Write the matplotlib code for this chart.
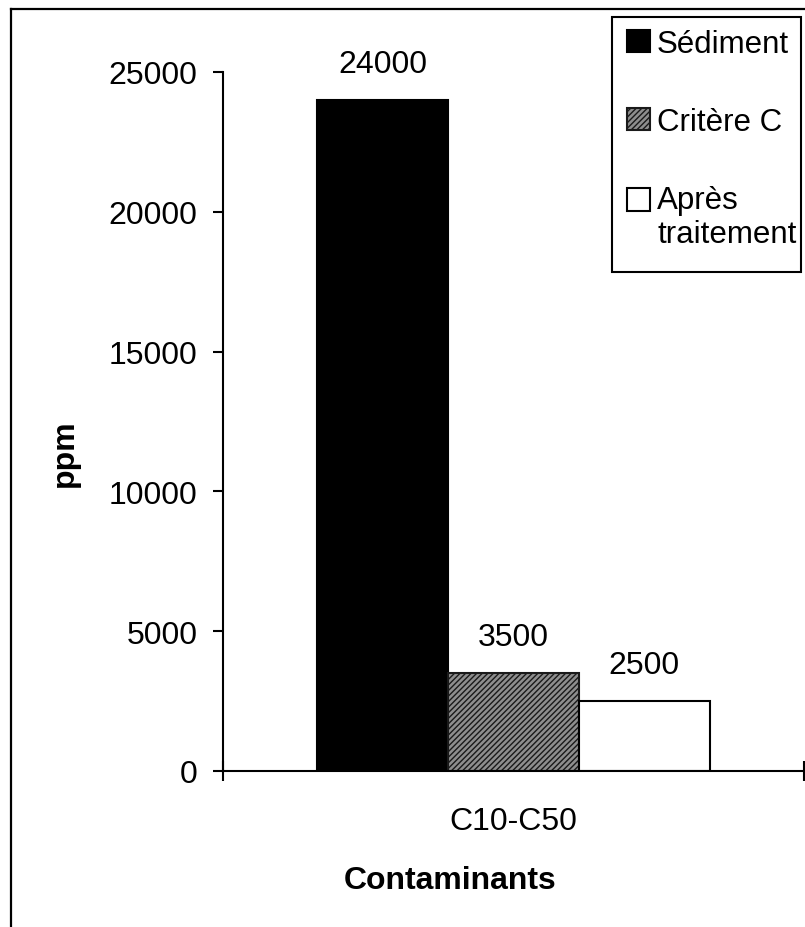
import matplotlib
matplotlib.use("Agg")
import matplotlib.pyplot as plt
from matplotlib.lines import Line2D
from matplotlib.patches import Patch, Rectangle
from matplotlib.legend_handler import HandlerPatch

plt.rcParams['font.family'] = ['Liberation Sans', 'DejaVu Sans']
plt.rcParams['hatch.linewidth'] = 1.0

# Data
category = ["C10-C50"]
series_names = ["Sédiment", "Critère C", "Après\ntraitement"]
series_values = [24000, 3500, 2500]
yticks = [0, 5000, 10000, 15000, 20000, 25000]

FS = 23

fig = plt.figure(figsize=(8.05, 9.28), dpi=100)
W, H = 805, 928
ax = fig.add_axes([223 / W, 1 - 772 / H, (804 - 223) / W, (772 - 73) / H])

bar_w = 0.225
offsets = [-bar_w, 0.0, bar_w]
styles = [
    dict(facecolor="black", edgecolor="black"),
    dict(facecolor="#8e8e8e", edgecolor="#1a1a1a", hatch="//////"),
    dict(facecolor="white", edgecolor="black"),
]
for off, val, name, st in zip(offsets, series_values, series_names, styles):
    b = ax.bar(0 + off, val, width=bar_w, linewidth=1.5, label=name, **st)
    ax.bar_label(b, labels=[f"{val}"], padding=15, fontsize=FS)

ax.set_xlim(-0.5, 0.5)
ax.set_ylim(0, 25000)
ax.set_yticks(yticks)
ax.set_yticklabels([str(t) for t in yticks], fontsize=FS)
ax.tick_params(axis="y", direction="out", length=7.2, width=1.5, pad=11)

ax.set_xticks([0])
ax.set_xticklabels(category, fontsize=FS)
ax.tick_params(axis="x", which="major", length=0, pad=25)
ax.set_xticks([-0.5, 0.5], minor=True)
ax.tick_params(axis="x", which="minor", direction="inout", length=15, width=1.5)

for s in ("top", "right"):
    ax.spines[s].set_visible(False)
for s in ("left", "bottom"):
    ax.spines[s].set_linewidth(1.5)
ax.patch.set_alpha(0)

# Axis titles
fig.text(65 / W, 1 - 453 / H, "ppm", rotation=90, fontsize=FS, fontweight="bold",
         ha="center", va="center")
fig.text(450 / W, 1 - 881 / H, "Contaminants", fontsize=FS, fontweight="bold",
         ha="center", va="center")


# Legend: the two-line entry keeps its key beside the first line
def key_top_line(legend, orig_handle, xdescent, ydescent, width, height, fontsize):
    return Rectangle((-xdescent, -ydescent + 0.58 * fontsize), width, height)


handles = [Patch(**st, linewidth=1.5) for st in styles]
leg = fig.legend(handles, series_names, loc="upper left",
                 bbox_to_anchor=(627 / W, 1 - 30 / H), fontsize=22.5,
                 frameon=False,
                 handlelength=0.74, handleheight=0.74, handletextpad=0.22,
                 labelspacing=1.53, borderpad=0, borderaxespad=0,
                 handler_map={handles[2]: HandlerPatch(patch_func=key_top_line)})

# Legend box
fig.add_artist(Rectangle((612 / W, 1 - 273 / H), (801 - 612) / W, (273 - 18) / H,
                         transform=fig.transFigure, facecolor="none",
                         edgecolor="black", linewidth=1.5))

# Outer chart frame
fig.add_artist(Line2D([11 / W, 11 / W], [0, 1 - 10 / H], color="black", lw=1.6,
                      transform=fig.transFigure))
fig.add_artist(Line2D([11 / W, 1], [1 - 10 / H, 1 - 10 / H], color="black", lw=1.6,
                      transform=fig.transFigure))

fig.savefig("out.png", dpi=100)
